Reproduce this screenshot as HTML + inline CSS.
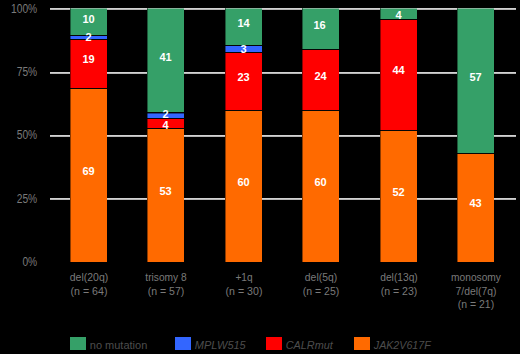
<!DOCTYPE html><html><head><meta charset="utf-8"><style>
html,body{margin:0;padding:0;background:#000;width:520px;height:354px;overflow:hidden}
svg{display:block}
text{font-family:"Liberation Sans",sans-serif;font-size:11px}
.ax{fill:#7a7a7a;font-size:11.5px}
.lb{fill:#fff;font-weight:bold}
.lg{fill:#4d4d4d}
</style></head><body>
<svg width="520" height="354" viewBox="0 0 520 354">
<rect x="0" y="0" width="520" height="354" fill="#000"/>
<g shape-rendering="crispEdges">
<rect x="50" y="8" width="466" height="1" fill="#d2d2d2"/>
<rect x="50" y="9" width="466" height="1" fill="#b4b4b4"/>
<rect x="50" y="72" width="466" height="1" fill="#d2d2d2"/>
<rect x="50" y="73" width="466" height="1" fill="#b4b4b4"/>
<rect x="50" y="135" width="466" height="1" fill="#d2d2d2"/>
<rect x="50" y="136" width="466" height="1" fill="#b4b4b4"/>
<rect x="50" y="198" width="466" height="1" fill="#d2d2d2"/>
<rect x="50" y="199" width="466" height="1" fill="#b4b4b4"/>
<rect x="70" y="8" width="37" height="254" fill="#050505"/>
<rect x="70" y="9" width="37" height="26" fill="#35a068"/>
<rect x="70" y="36" width="37" height="3" fill="#3366ff"/>
<rect x="70" y="40" width="37" height="48" fill="#ff0000"/>
<rect x="70" y="89" width="37" height="173" fill="#ff6a00"/>
<rect x="70" y="8" width="37" height="1" fill="#86b49c"/>
<rect x="70" y="8" width="1" height="254" fill="#000" fill-opacity="0.45"/>
<rect x="147" y="8" width="37" height="254" fill="#050505"/>
<rect x="147" y="9" width="37" height="103" fill="#35a068"/>
<rect x="147" y="113" width="37" height="5" fill="#3366ff"/>
<rect x="147" y="119" width="37" height="9" fill="#ff0000"/>
<rect x="147" y="129" width="37" height="133" fill="#ff6a00"/>
<rect x="147" y="8" width="37" height="1" fill="#86b49c"/>
<rect x="147" y="8" width="1" height="254" fill="#000" fill-opacity="0.45"/>
<rect x="225" y="8" width="37" height="254" fill="#050505"/>
<rect x="225" y="9" width="37" height="36" fill="#35a068"/>
<rect x="225" y="46" width="37" height="6" fill="#3366ff"/>
<rect x="225" y="53" width="37" height="57" fill="#ff0000"/>
<rect x="225" y="111" width="37" height="151" fill="#ff6a00"/>
<rect x="225" y="8" width="37" height="1" fill="#86b49c"/>
<rect x="225" y="8" width="1" height="254" fill="#000" fill-opacity="0.45"/>
<rect x="302" y="8" width="37" height="254" fill="#050505"/>
<rect x="302" y="9" width="37" height="40" fill="#35a068"/>
<rect x="302" y="50" width="37" height="60" fill="#ff0000"/>
<rect x="302" y="111" width="37" height="151" fill="#ff6a00"/>
<rect x="302" y="8" width="37" height="1" fill="#86b49c"/>
<rect x="302" y="8" width="1" height="254" fill="#000" fill-opacity="0.45"/>
<rect x="380" y="8" width="37" height="254" fill="#050505"/>
<rect x="380" y="9" width="37" height="10" fill="#35a068"/>
<rect x="380" y="20" width="37" height="110" fill="#ff0000"/>
<rect x="380" y="131" width="37" height="131" fill="#ff6a00"/>
<rect x="380" y="8" width="37" height="1" fill="#86b49c"/>
<rect x="380" y="8" width="1" height="254" fill="#000" fill-opacity="0.45"/>
<rect x="457" y="8" width="37" height="254" fill="#050505"/>
<rect x="457" y="9" width="37" height="144" fill="#35a068"/>
<rect x="457" y="154" width="37" height="108" fill="#ff6a00"/>
<rect x="457" y="8" width="37" height="1" fill="#86b49c"/>
<rect x="457" y="8" width="1" height="254" fill="#000" fill-opacity="0.45"/>
<rect x="147" y="113" width="37" height="1" fill="#1d3c94"/>
<rect x="147" y="113" width="1" height="1" fill="#000" fill-opacity="0.45"/>
<rect x="70" y="337" width="16" height="13" fill="#35a068"/>
<rect x="175" y="337" width="16" height="13" fill="#3366ff"/>
<rect x="266" y="337" width="16" height="13" fill="#ff0000"/>
<rect x="354" y="337" width="16" height="13" fill="#ff6a00"/>
</g>
<text class="lb" x="88.5" y="23.0" text-anchor="middle">10</text>
<text class="lb" x="88.5" y="41.0" text-anchor="middle">2</text>
<text class="lb" x="88.5" y="63.0" text-anchor="middle">19</text>
<text class="lb" x="88.5" y="175.0" text-anchor="middle">69</text>
<text class="lb" x="165.5" y="61.0" text-anchor="middle">41</text>
<text class="lb" x="165.5" y="118.0" text-anchor="middle">2</text>
<text class="lb" x="165.5" y="129.0" text-anchor="middle">4</text>
<text class="lb" x="165.5" y="195.0" text-anchor="middle">53</text>
<text class="lb" x="243.5" y="27.0" text-anchor="middle">14</text>
<text class="lb" x="243.5" y="53.0" text-anchor="middle">3</text>
<text class="lb" x="243.5" y="81.0" text-anchor="middle">23</text>
<text class="lb" x="243.5" y="186.0" text-anchor="middle">60</text>
<text class="lb" x="319.5" y="28.5" text-anchor="middle">16</text>
<text class="lb" x="320.5" y="80.0" text-anchor="middle">24</text>
<text class="lb" x="320.5" y="186.0" text-anchor="middle">60</text>
<text class="lb" x="398.5" y="18.5" text-anchor="middle">4</text>
<text class="lb" x="398.5" y="74.0" text-anchor="middle">44</text>
<text class="lb" x="398.5" y="196.0" text-anchor="middle">52</text>
<text class="lb" x="475.5" y="80.5" text-anchor="middle">57</text>
<text class="lb" x="475.5" y="207.0" text-anchor="middle">43</text>
<text class="ax" x="89.0" y="280.5" text-anchor="middle" textLength="38.46" lengthAdjust="spacingAndGlyphs">del(20q)</text>
<text class="ax" x="89.0" y="294.6" text-anchor="middle" textLength="36.88" lengthAdjust="spacingAndGlyphs">(n = 64)</text>
<text class="ax" x="166.0" y="280.5" text-anchor="middle" textLength="41.28" lengthAdjust="spacingAndGlyphs">trisomy 8</text>
<text class="ax" x="166.0" y="294.6" text-anchor="middle" textLength="36.69" lengthAdjust="spacingAndGlyphs">(n = 57)</text>
<text class="ax" x="244.0" y="280.5" text-anchor="middle" textLength="17.18" lengthAdjust="spacingAndGlyphs">+1q</text>
<text class="ax" x="244.0" y="294.6" text-anchor="middle" textLength="36.88" lengthAdjust="spacingAndGlyphs">(n = 30)</text>
<text class="ax" x="321.0" y="280.5" text-anchor="middle" textLength="32.33" lengthAdjust="spacingAndGlyphs">del(5q)</text>
<text class="ax" x="321.0" y="294.6" text-anchor="middle" textLength="36.50" lengthAdjust="spacingAndGlyphs">(n = 25)</text>
<text class="ax" x="399.0" y="280.5" text-anchor="middle" textLength="37.53" lengthAdjust="spacingAndGlyphs">del(13q)</text>
<text class="ax" x="399.0" y="294.6" text-anchor="middle" textLength="36.69" lengthAdjust="spacingAndGlyphs">(n = 23)</text>
<text class="ax" x="476.0" y="280.5" text-anchor="middle" textLength="49.76" lengthAdjust="spacingAndGlyphs">monosomy</text>
<text class="ax" x="476.0" y="294.6" text-anchor="middle" textLength="40.82" lengthAdjust="spacingAndGlyphs">7/del(7q)</text>
<text class="ax" x="476.0" y="308.4" text-anchor="middle" textLength="36.31" lengthAdjust="spacingAndGlyphs">(n = 21)</text>
<text class="ax" style="font-size:12px" x="37.2" y="13.0" text-anchor="end" textLength="26.17" lengthAdjust="spacingAndGlyphs">100%</text>
<text class="ax" style="font-size:12px" x="37.2" y="76.0" text-anchor="end" textLength="20.49" lengthAdjust="spacingAndGlyphs">75%</text>
<text class="ax" style="font-size:12px" x="37.2" y="139.0" text-anchor="end" textLength="20.49" lengthAdjust="spacingAndGlyphs">50%</text>
<text class="ax" style="font-size:12px" x="37.2" y="202.5" text-anchor="end" textLength="20.49" lengthAdjust="spacingAndGlyphs">25%</text>
<text class="ax" style="font-size:12px" x="37.2" y="265.5" text-anchor="end" textLength="14.79" lengthAdjust="spacingAndGlyphs">0%</text>
<text class="lg" x="89.8" y="348.5" textLength="57.48" lengthAdjust="spacingAndGlyphs">no mutation</text>
<text class="lg" x="194.8" y="348.5" font-style="italic" textLength="50.95" lengthAdjust="spacingAndGlyphs">MPLW515</text>
<text class="lg" x="285.8" y="348.5" font-style="italic" textLength="46.97" lengthAdjust="spacingAndGlyphs">CALRmut</text>
<text class="lg" x="373.8" y="348.5" font-style="italic" textLength="56.94" lengthAdjust="spacingAndGlyphs">JAK2V617F</text>
</svg></body></html>
